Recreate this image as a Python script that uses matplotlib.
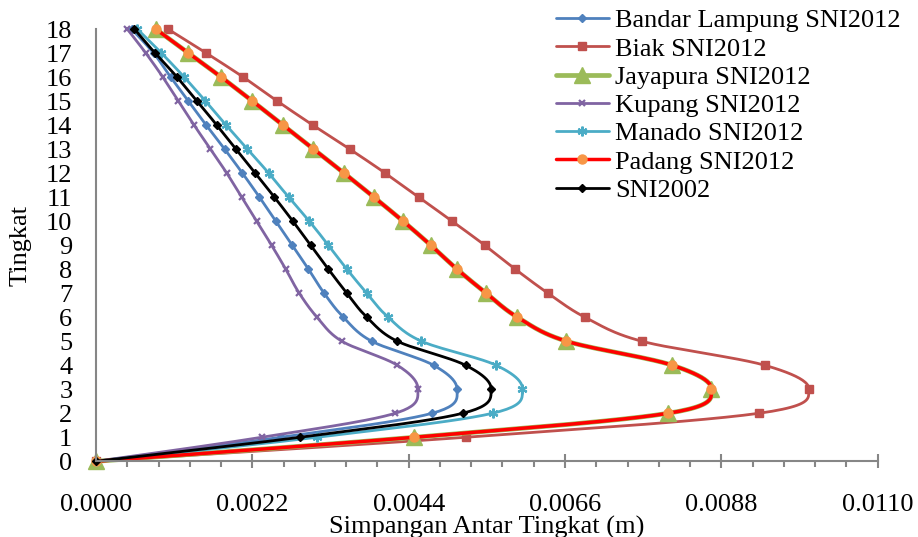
import numpy as np
import matplotlib
matplotlib.use("Agg")
import matplotlib.pyplot as plt
from matplotlib.ticker import MultipleLocator, FixedLocator

plt.rcParams['font.family'] = ['Liberation Serif', 'DejaVu Serif']

levels = list(range(0, 19))

bandar = [0, 0.0026, 0.00473, 0.00508, 0.00475, 0.00388, 0.00348, 0.00321, 0.00299, 0.00276,
          0.00253, 0.0023, 0.00206, 0.00181, 0.00155, 0.0013, 0.00105, 0.00081, 0.0005]
biak = [0, 0.0052, 0.00933, 0.01003, 0.00941, 0.00768, 0.00688, 0.00636, 0.0059, 0.00547,
        0.00501, 0.00454, 0.00407, 0.00357, 0.00305, 0.00255, 0.00207, 0.00155, 0.00101]
jayapura = [0, 0.00448, 0.00805, 0.00866, 0.00811, 0.00662, 0.00593, 0.00549, 0.00508, 0.00471,
            0.00432, 0.00391, 0.00349, 0.00306, 0.00263, 0.0022, 0.00176, 0.0013, 0.00084]
kupang = [0, 0.00233, 0.00421, 0.00453, 0.00424, 0.00346, 0.00311, 0.00286, 0.00267, 0.00247,
          0.00226, 0.00205, 0.00184, 0.00161, 0.00138, 0.00116, 0.00094, 0.0007, 0.00044]
manado = [0, 0.00311, 0.00558, 0.006, 0.00563, 0.00458, 0.00411, 0.00381, 0.00353, 0.00327,
          0.003, 0.00271, 0.00243, 0.00213, 0.00183, 0.00154, 0.00124, 0.00092, 0.00058]
padang = [0, 0.00448, 0.00805, 0.00866, 0.00811, 0.00662, 0.00593, 0.00549, 0.00508, 0.00471,
          0.00432, 0.00391, 0.00349, 0.00306, 0.00263, 0.0022, 0.00176, 0.0013, 0.00084]
sni2002 = [0, 0.00287, 0.00516, 0.00556, 0.0052, 0.00424, 0.00381, 0.00353, 0.00327, 0.00302,
           0.00277, 0.00251, 0.00224, 0.00197, 0.0017, 0.00142, 0.00114, 0.00083, 0.00054]

labels = ["Bandar Lampung SNI2012", "Biak SNI2012", "Jayapura SNI2012", "Kupang SNI2012",
          "Manado SNI2012", "Padang SNI2012", "SNI2002"]
xticks = [0.0, 0.0022, 0.0044, 0.0066, 0.0088, 0.0110]
xticklabels = ["0.0000", "0.0022", "0.0044", "0.0066", "0.0088", "0.0110"]

NS = 24


def smooth(xs, ys):
    P = np.column_stack([xs, ys]).astype(float)
    n = len(P)
    out = []
    for i in range(n - 1):
        p0 = P[max(i - 1, 0)]
        p1 = P[i]
        p2 = P[i + 1]
        p3 = P[min(i + 2, n - 1)]
        c1 = p1 + (p2 - p0) / 6.0
        c2 = p2 - (p3 - p1) / 6.0
        t = np.linspace(0, 1, NS, endpoint=False)[:, None]
        seg = ((1 - t) ** 3) * p1 + 3 * ((1 - t) ** 2) * t * c1 + 3 * (1 - t) * t ** 2 * c2 + t ** 3 * p2
        out.append(seg)
    out.append(P[-1:])
    S = np.vstack(out)
    return S[:, 0], S[:, 1], list(range(0, NS * (n - 1) + 1, NS))


fig = plt.figure(figsize=(9.18, 5.37), dpi=100)
ax = fig.add_axes([96 / 918, 1 - 461.3 / 537, (877.7 - 96) / 918, (461.3 - 29) / 537])

styles = [
    dict(color='#4F81BD', lw=2.0, marker='D', ms=4.5, mfc='#4F81BD', mec='#4F81BD'),
    dict(color='#C0504D', lw=2.0, marker='s', ms=5.5, mfc='#C0504D', mec='#C0504D'),
    dict(color='#9BBB59', lw=3.4, marker='^', ms=12, mfc='#9BBB59', mec='#9BBB59'),
    dict(color='#8064A2', lw=2.0, marker='x', ms=5, mfc='#8064A2', mec='#8064A2', mew=1.6),
    dict(color='#4BACC6', lw=2.0, marker=(6, 2, 0), ms=7, mfc='#4BACC6', mec='#4BACC6', mew=1.6),
    dict(color='#FF0000', lw=2.5, marker='o', ms=6.5, mfc='#F79646', mec='#F79646'),
    dict(color='#000000', lw=2.0, marker='D', ms=4.5, mfc='#000000', mec='#000000'),
]
series = [bandar, biak, jayapura, kupang, manado, padang, sni2002]

handles = []
for vals, st, lab in zip(series, styles, labels):
    sx, sy, idx = smooth(vals, levels)
    h, = ax.plot(sx, sy, markevery=idx, label=lab, clip_on=False, solid_capstyle='round', **st)
    handles.append(h)

ax.set_xlim(0, 0.011)
ax.set_ylim(0, 18)
ax.xaxis.set_major_locator(FixedLocator(xticks))
ax.set_xticklabels(xticklabels)
ax.xaxis.set_minor_locator(MultipleLocator(0.00044))
ax.yaxis.set_major_locator(MultipleLocator(1))

for s in ['top', 'right']:
    ax.spines[s].set_visible(False)
for s in ['left', 'bottom']:
    ax.spines[s].set_color('#868686')
    ax.spines[s].set_linewidth(1.5)

ax.tick_params(axis='x', which='major', direction='inout', length=9.5, width=1.5,
               color='#868686', labelsize=19, pad=18.5)
ax.tick_params(axis='x', which='minor', direction='out', length=4, width=1.5, color='#868686')
ax.tick_params(axis='y', which='major', length=0, labelsize=19, pad=17)

ax.set_xlabel("Simpangan Antar Tingkat (m)", fontsize=19, labelpad=0)
ax.set_ylabel("Tingkat", fontsize=19, labelpad=10)

leg = fig.legend(handles=handles, labels=labels, loc='upper left',
                 bbox_to_anchor=(556 / 918, 1 - 9 / 537), frameon=False, fontsize=19,
                 borderpad=0, borderaxespad=0, labelspacing=0.18, handlelength=2.0,
                 handletextpad=0.25)

fig.savefig("out.png", dpi=100)
